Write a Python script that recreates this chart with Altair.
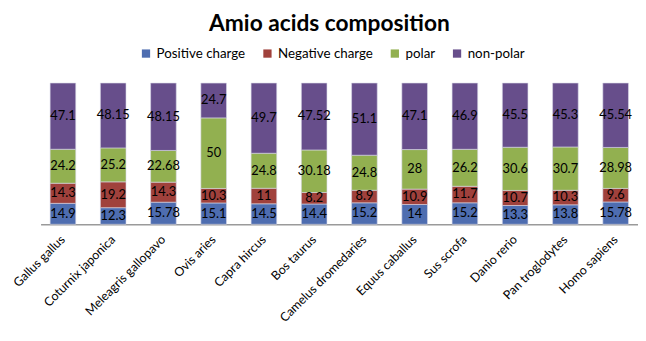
import altair as alt
import pandas as pd

species = ["Gallus gallus", "Coturnix japonica", "Meleagris gallopavo", "Ovis aries",
           "Capra hircus", "Bos taurus", "Camelus  dromedaries", "Equus caballus",
           "Sus scrofa", "Danio rerio", "Pan troglodytes", "Homo sapiens"]
groups = ["Positive charge", "Negative charge", "polar", "non-polar"]
positive = [14.9, 12.3, 15.78, 15.1, 14.5, 14.4, 15.2, 14, 15.2, 13.3, 13.8, 15.78]
negative = [14.3, 19.2, 14.3, 10.3, 11, 8.2, 8.9, 10.9, 11.7, 10.7, 10.3, 9.6]
polar = [24.2, 25.2, 22.68, 50, 24.8, 30.18, 24.8, 28, 26.2, 30.6, 30.7, 28.98]
nonpolar = [47.1, 48.15, 48.15, 24.7, 49.7, 47.52, 51.1, 47.1, 46.9, 45.5, 45.3, 45.54]
colors = ["#4E6DB0", "#A0413C", "#92B050", "#674E8B"]

rows = []
for gi, (g, vals) in enumerate(zip(groups, [positive, negative, polar, nonpolar])):
    for s, v in zip(species, vals):
        rows.append({"species": s, "group": g, "order": gi, "value": v, "label": f"{v:g}"})
df = pd.DataFrame(rows)

FONT = "Lato"

base = alt.Chart(df).transform_stack(
    stack="value", groupby=["species"], as_=["y0", "y1"],
    offset="normalize", sort=[alt.SortField("order", order="ascending")]
).transform_calculate(mid="(datum.y0 + datum.y1) / 2")

xenc = alt.X("species:N", sort=species, title=None,
             scale=alt.Scale(paddingInner=0.49, paddingOuter=0.19),
             axis=alt.Axis(labelAngle=-45, ticks=False, domainColor="#9a9a9a",
                           domainWidth=1.5, labelFont=FONT, labelFontSize=12.5,
                           labelColor="#000000", labelPadding=13, labelAlign="right",
                           labelBaseline="middle"))

bars = base.mark_bar(stroke="#d8d8e8", strokeWidth=0.6).encode(
    x=xenc,
    y=alt.Y("y0:Q", axis=None, scale=alt.Scale(domain=[0, 1], nice=False)),
    y2="y1:Q",
    color=alt.Color("group:N", sort=groups,
                    scale=alt.Scale(domain=groups, range=colors),
                    legend=alt.Legend(title=None, orient="none", direction="horizontal",
                                      legendX=100, legendY=-37, symbolType="square",
                                      symbolSize=70, symbolStrokeWidth=0,
                                      labelFont=FONT, labelFontSize=13.5,
                                      labelColor="#000000", columnPadding=15,
                                      labelOffset=4)),
)

labels = base.mark_text(font=FONT, fontSize=13, color="#000000").encode(
    x=alt.X("species:N", sort=species),
    y=alt.Y("mid:Q"),
    text="label:N",
)

chart = alt.layer(bars, labels).properties(
    width=605, height=143,
    autosize=alt.AutoSizeParams(type="none"),
    padding={"left": 33, "top": 74, "right": 0, "bottom": 100},
    title=alt.TitleParams("Amio acids composition", font=FONT, fontSize=23,
                          fontWeight="bold", color="#000000", frame="group",
                          anchor="middle", offset=11, dx=-10),
).configure_view(stroke=None)

chart.save("out.html", embed_options={"renderer": "svg", "actions": False})
